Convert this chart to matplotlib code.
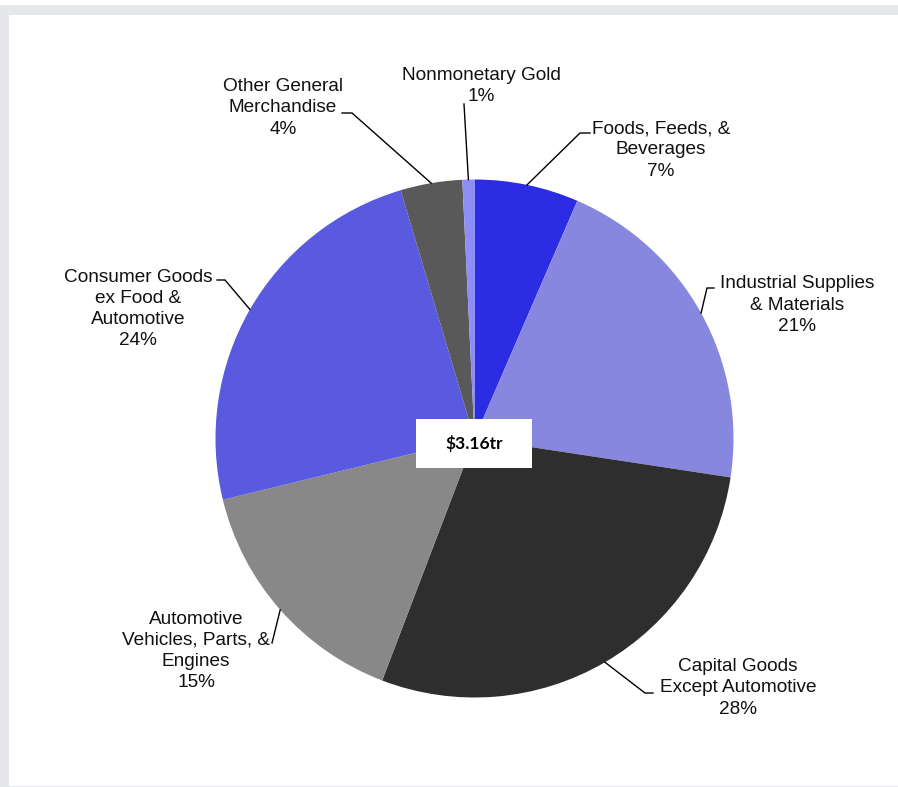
import numpy as np
import matplotlib
matplotlib.use("Agg")
from matplotlib import pyplot as plt
from matplotlib.patches import Rectangle

# shares of total goods exports (%), clockwise from 12 o'clock
categories = ["Foods, Feeds, &\nBeverages", "Industrial Supplies\n& Materials",
              "Capital Goods\nExcept Automotive", "Automotive\nVehicles, Parts, &\nEngines",
              "Consumer Goods\nex Food &\nAutomotive", "Other General\nMerchandise",
              "Nonmonetary Gold"]
shares = [6.5, 20.9, 28.4, 15.4, 24.2, 3.85, 0.75]
pct_labels = ["7%", "21%", "28%", "15%", "24%", "4%", "1%"]
total_label = "$3.16tr"

colors = ["#2c2ce3", "#8787e0", "#2e2e2e", "#888888", "#5a5ae0", "#595959", "#8e8ef8"]

W, H = 898, 787
cx, cy, R = 474.5, 438.5, 259.0


def to_data(px, py):
    return (px - cx) / R, (cy - py) / R


# label centres and leader elbow points (pixels)
label_pos = [(661, 150), (797, 305), (738, 688), (196, 651), (138, 309), (283, 108), (481, 86)]
elbows = [
    [(580, 133), (590, 133)],
    [(707, 288), (714, 288)],
    [(645, 693), (653, 693)],
    [(272, 643)],
    [(225, 280), (217, 280)],
    [(352, 113), (342, 113)],
    [(464, 104)],
]

fig = plt.figure(figsize=(W / 100, H / 100), dpi=100)
fig.patch.set_facecolor("white")
ax = fig.add_axes([0, 0, 1, 1])
ax.axis("off")

# grey frame
frame = "#e6e7ea"
fig.add_artist(Rectangle((0, (H - 14.5) / H), 1, 9.5 / H, transform=fig.transFigure,
                         color=frame, lw=0))
fig.add_artist(Rectangle((0, 0), 9.3 / W, (H - 5) / H, transform=fig.transFigure,
                         color=frame, lw=0))
fig.add_artist(Rectangle((0, 0), 1, 1.2 / H, transform=fig.transFigure,
                         color=frame, lw=0))

wedges, _ = ax.pie(shares, colors=colors, startangle=90, counterclock=False,
                   radius=1, center=(0, 0), wedgeprops=dict(linewidth=0))
ax.set_xlim(-cx / R, (W - cx) / R)
ax.set_ylim(-(H - cy) / R, cy / R)
ax.set_aspect("equal")

for w, cat, pct, (lx, ly), elb in zip(wedges, categories, pct_labels, label_pos, elbows):
    mid = np.deg2rad((w.theta1 + w.theta2) / 2)
    pts = [(np.cos(mid), np.sin(mid))] + [to_data(*p) for p in elb]
    xs, ys = zip(*pts)
    ax.plot(xs, ys, color="black", lw=1.0, solid_joinstyle="miter")
    tx, ty = to_data(lx, ly)
    ax.text(tx, ty, cat + "\n" + pct, ha="center", va="center", fontsize=13.7,
            family="Liberation Sans", color="#111111", linespacing=1.33)

# centre total box
bx0, by0 = to_data(416, 468)
bx1, by1 = to_data(532, 419)
ax.add_patch(Rectangle((bx0, by0), bx1 - bx0, by1 - by0, facecolor="white", lw=0, zorder=3))
ax.text((bx0 + bx1) / 2, (by0 + by1) / 2, total_label, ha="center", va="center",
        fontsize=12.5, fontweight="bold", family="Lato", zorder=4)

fig.savefig("out.png", dpi=100)
